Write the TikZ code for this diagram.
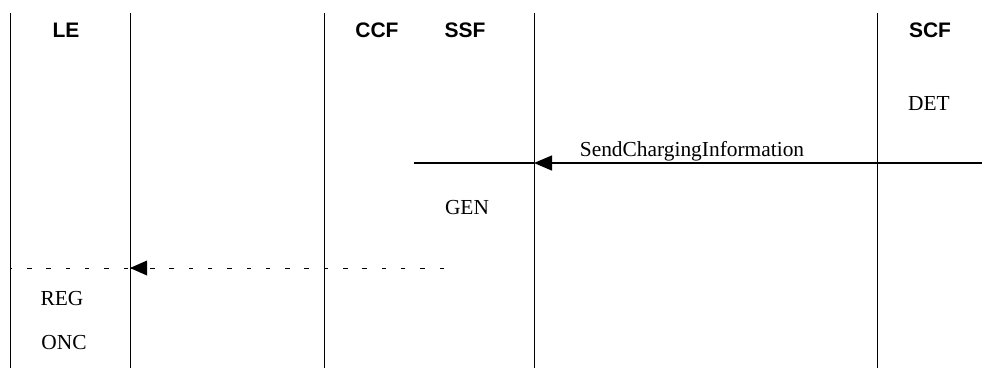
\documentclass[tikz,border=0pt]{standalone}
\usepackage{fontspec}
\setmainfont{Liberation Serif}
\setsansfont{Liberation Sans}
\usetikzlibrary{arrows.meta}
\begin{document}
\begin{tikzpicture}[x=1pt,y=-1pt,
  lifeline/.style={line width=1pt,black},
  head/.style={font=\sffamily\bfseries\fontsize{21}{24}\selectfont,inner sep=0pt,anchor=center},
  lbl/.style={font=\fontsize{21.4}{24}\selectfont,inner sep=0pt,anchor=center},
  msg/.style={line width=1.3pt,black},
  dotmsg/.style={line width=1pt,black,dash pattern=on 4.5pt off 14.8pt,dash phase=-2pt},
  tip/.style={-{Triangle[length=18pt,width=15pt]}}]
\useasboundingbox (0,0) rectangle (982,368);
% lifelines
\coordinate (leT) at (10,13);   \coordinate (leB) at (10,368);
\coordinate (l2T) at (130,13);  \coordinate (l2B) at (130,368);
\coordinate (ccT) at (324,13);  \coordinate (ccB) at (324,368);
\coordinate (ssT) at (534,13);  \coordinate (ssB) at (534,368);
\coordinate (scT) at (877,13);  \coordinate (scB) at (877,368);
\draw[lifeline] (leT) -- (leB);
\draw[lifeline] (l2T) -- (l2B);
\draw[lifeline] (ccT) -- (ccB);
\draw[lifeline] (ssT) -- (ssB);
\draw[lifeline] (scT) -- (scB);
% headers
\node[head] (le) at (66,30) {LE};
\node[head] (ccf) at (377,30) {CCF};
\node[head] (ssf) at (465,30) {SSF};
\node[head] (scf) at (930,30) {SCF};
% labels
\node[lbl] (det) at (929,104) {DET};
\node[lbl,anchor=base] (sci) at (692,156) {SendChargingInformation};
\node[lbl] (gen) at (467,208) {GEN};
\node[lbl] (reg) at (62,299) {REG};
\node[lbl] (onc) at (64,343) {ONC};
% solid message
\coordinate (mR) at (982,163);
\coordinate (mTip) at (534,163);
\coordinate (mL) at (414,163);
\draw[msg,tip] (mR) -- (mTip);
\draw[msg] (mTip) -- (mL);
% dotted message
\coordinate (dR) at (446,268);
\coordinate (dTip) at (130,268);
\coordinate (dL) at (10,268);
\draw[dotmsg] (dR) -- (dTip);
\fill (dTip) -- ++(17,-7.5) -- ++(0,15) -- cycle;
\draw[dotmsg] (dTip) -- (dL);
\end{tikzpicture}
\end{document}
